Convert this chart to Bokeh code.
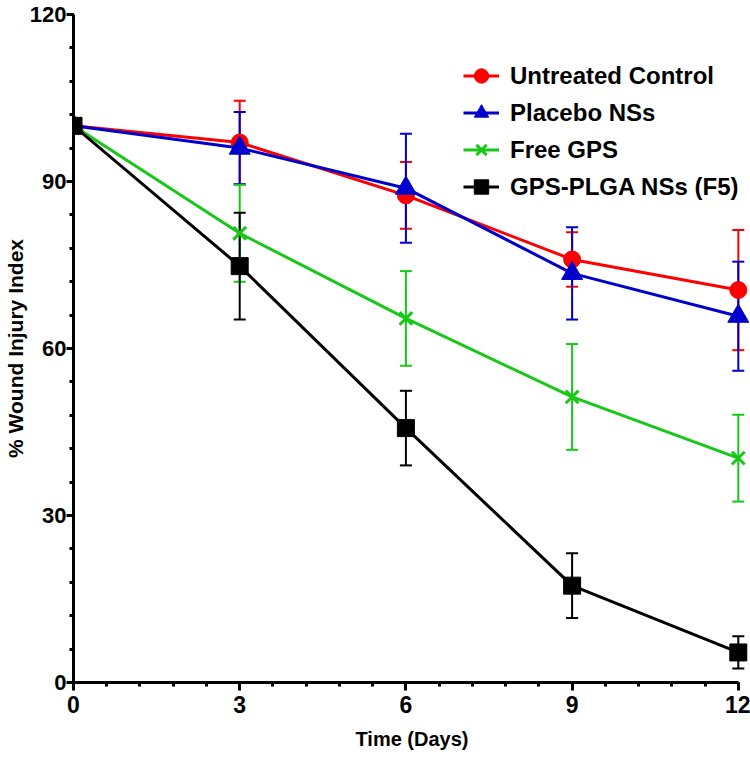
from bokeh.plotting import figure
from bokeh.models import ColumnDataSource, Range1d, Whisker, TeeHead, Legend, LegendItem, FixedTicker
from bokeh.embed import file_html
from bokeh.resources import INLINE

days = [0, 3, 6, 9, 12]

untreated = [100, 97, 87.5, 76, 70.5]
untreated_err = [0, 7.5, 6.0, 4.9, 10.8]

placebo = [100, 96, 88.8, 73.5, 65.8]
placebo_err = [0, 6.5, 9.8, 8.3, 9.8]

free_gps = [100, 80.7, 65.4, 51.3, 40.3]
free_gps_err = [0, 8.7, 8.5, 9.5, 7.8]

plga = [100, 74.8, 45.7, 17.4, 5.4]
plga_err = [0, 9.6, 6.7, 5.8, 2.9]

series_names = ["Untreated Control", "Placebo NSs", "Free GPS", "GPS-PLGA NSs (F5)"]
x_ticks = [0, 3, 6, 9, 12]
y_ticks = [0, 30, 60, 90, 120]

FONT = "Liberation Sans"

p = figure(width=750, height=759, output_backend="svg", toolbar_location=None,
           x_range=Range1d(0, 12.22), y_range=Range1d(0, 120),
           min_border_left=70, min_border_right=0, min_border_top=14, min_border_bottom=77)
p.grid.visible = False
p.outline_line_color = None
p.background_fill_color = "white"

for ax in (p.xaxis[0], p.yaxis[0]):
    ax.axis_line_width = 3
    ax.axis_line_color = "black"
    ax.major_tick_line_width = 3
    ax.minor_tick_line_width = 3
    ax.major_tick_in = 0
    ax.minor_tick_in = 0
    ax.major_tick_out = 8
    ax.minor_tick_out = 4
    ax.major_label_text_font = FONT
    ax.major_label_text_font_style = "bold"
    ax.major_label_text_font_size = "23px"
    ax.major_label_text_color = "black"
    ax.axis_label_text_font = FONT
    ax.axis_label_text_font_style = "bold"
    ax.axis_label_text_color = "black"

p.yaxis.major_label_text_font_size = "22px"
p.yaxis.major_tick_out = 7
p.xaxis.ticker = FixedTicker(ticks=x_ticks, minor_ticks=[i * 0.6 for i in range(21)])
p.yaxis.ticker = FixedTicker(ticks=y_ticks, minor_ticks=[i * 6 for i in range(21)])
p.xaxis.bounds = (0, 12)
p.xaxis.axis_label = "Time (Days)"
p.yaxis.axis_label = "% Wound Injury Index"
p.xaxis.axis_label_text_font_size = "20px"
p.yaxis.axis_label_text_font_size = "21px"
p.xaxis.major_label_standoff = 5
p.xaxis.axis_label_standoff = 12
p.yaxis.major_label_standoff = 0
p.yaxis.axis_label_standoff = 0

colors = ["#FF0000", "#0000CC", "#18C818", "#000000"]
markers = ["circle", "triangle", "x", "square"]
sizes = [17, 21, 18, 17]
vals = [untreated, placebo, free_gps, plga]
errs = [untreated_err, placebo_err, free_gps_err, plga_err]

items = []
for name, col, mk, sz, v, e in zip(series_names, colors, markers, sizes, vals, errs):
    src = ColumnDataSource(dict(x=days, y=v,
                                upper=[a + b for a, b in zip(v, e)],
                                lower=[a - b for a, b in zip(v, e)]))
    w = Whisker(source=src, base="x", upper="upper", lower="lower", dimension="height",
                line_color=col, line_width=2,
                upper_head=TeeHead(size=12, line_color=col, line_width=2),
                lower_head=TeeHead(size=12, line_color=col, line_width=2))
    p.add_layout(w)
    ln = p.line("x", "y", source=src, line_color=col, line_width=3)
    if mk == "x":
        sc = p.scatter("x", "y", source=src, marker=mk, size=sz, line_color=col, line_width=3)
    else:
        sc = p.scatter("x", "y", source=src, marker=mk, size=sz, fill_color=col, line_color=col)
    items.append(LegendItem(label=name, renderers=[ln, sc]))

legend = Legend(items=items, location=(390, 477), border_line_color=None,
                background_fill_alpha=0, label_text_font=FONT, label_text_font_style="bold",
                label_text_font_size="24px", label_text_color="black",
                glyph_width=36, glyph_height=37, spacing=0, padding=0, margin=0,
                label_standoff=11, label_height=37)
p.add_layout(legend)

open("out.html", "w").write(file_html(p, INLINE))
